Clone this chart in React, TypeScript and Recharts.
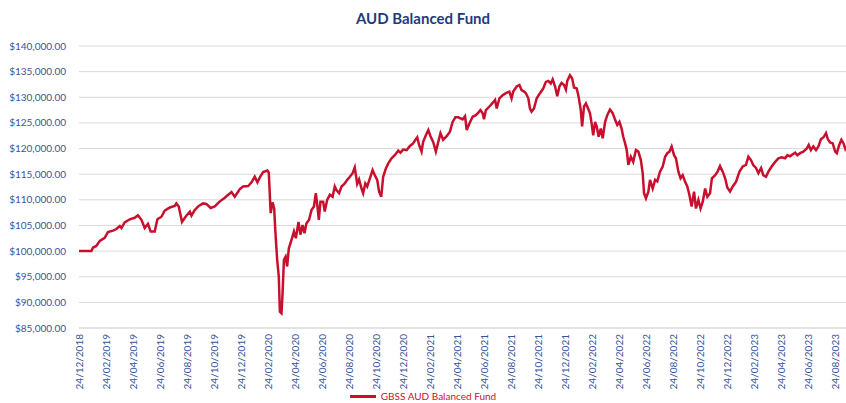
import React from 'react';
import { LineChart, Line, XAxis, YAxis, CartesianGrid, Legend } from 'recharts';

// months since 24/12/2018 for each reading, and the fund value at that point
const obsMonths = [
  0, 0.92, 1.04, 1.28, 1.54, 1.9, 2.14, 2.52, 2.76, 3.02,
  3.14, 3.38, 3.76, 4.12, 4.36, 4.62, 4.86, 5.1, 5.3, 5.6,
  5.8, 6.1, 6.34, 6.72, 7.08, 7.2, 7.38, 7.62, 7.94, 8.2,
  8.32, 8.56, 8.86, 9.18, 9.42, 9.74, 10.04, 10.42, 10.74, 11.04,
  11.28, 11.52, 11.9, 12.14, 12.52, 12.76, 13.0, 13.2, 13.4, 13.62,
  13.94, 14.04, 14.18, 14.32, 14.44, 14.52, 14.66, 14.78, 14.86, 14.98,
  15.06, 15.16, 15.28, 15.4, 15.52, 15.72, 15.9, 16.04, 16.24, 16.38,
  16.54, 16.68, 16.82, 17.02, 17.2, 17.38, 17.52, 17.64, 17.74, 17.86,
  18.06, 18.18, 18.36, 18.56, 18.76, 18.92, 19.04, 19.24, 19.42, 19.66,
  19.84, 20.04, 20.24, 20.4, 20.58, 20.72, 20.9, 21.02, 21.18, 21.32,
  21.52, 21.72, 21.88, 22.06, 22.2, 22.36, 22.5, 22.7, 22.88, 23.12,
  23.36, 23.62, 23.78, 23.98, 24.24, 24.48, 24.72, 24.88, 25.02, 25.16,
  25.34, 25.46, 25.66, 25.84, 26.0, 26.2, 26.4, 26.58, 26.74, 26.94,
  27.2, 27.44, 27.64, 27.84, 28.06, 28.38, 28.56, 28.68, 28.88, 29.12,
  29.36, 29.54, 29.7, 29.86, 29.96, 30.1, 30.36, 30.6, 30.78, 30.9,
  31.1, 31.34, 31.58, 31.84, 32.0, 32.12, 32.38, 32.58, 32.74, 32.92,
  33.06, 33.24, 33.36, 33.48, 33.66, 33.86, 34.1, 34.34, 34.54, 34.72,
  34.9, 35.04, 35.22, 35.38, 35.54, 35.7, 35.88, 36.02, 36.12, 36.32,
  36.48, 36.62, 36.82, 36.96, 37.12, 37.22, 37.36, 37.5, 37.66, 37.8,
  37.92, 38.04, 38.18, 38.3, 38.44, 38.6, 38.74, 38.92, 39.08, 39.28,
  39.48, 39.66, 39.82, 39.98, 40.14, 40.26, 40.4, 40.52, 40.64, 40.82,
  41.0, 41.2, 41.38, 41.56, 41.7, 41.8, 41.94, 42.12, 42.24, 42.44,
  42.62, 42.78, 42.98, 43.18, 43.36, 43.52, 43.68, 43.84, 44.02, 44.16,
  44.34, 44.5, 44.66, 44.84, 45.0, 45.16, 45.32, 45.5, 45.64, 45.82,
  45.98, 46.14, 46.32, 46.48, 46.68, 46.82, 47.06, 47.24, 47.42, 47.62,
  47.8, 47.96, 48.16, 48.36, 48.6, 48.86, 49.1, 49.34, 49.52, 49.7,
  49.88, 50.08, 50.26, 50.46, 50.62, 50.82, 51.0, 51.24, 51.5, 51.74,
  51.98, 52.24, 52.4, 52.6, 52.8, 52.98, 53.14, 53.34, 53.58, 53.84,
  53.98, 54.14, 54.32, 54.52, 54.7, 54.88, 55.08, 55.26, 55.4, 55.56,
  55.76, 55.94, 56.06, 56.24, 56.4, 56.56, 56.68, 56.74,
];

const fundValues = [
  100000, 100000, 100700, 101000, 102000, 102600, 103700, 104000, 104300, 104900,
  104500, 105600, 106200, 106500, 107000, 106100, 104500, 105300, 103800, 103800,
  106200, 106700, 107900, 108500, 108800, 109300, 108700, 105700, 106900, 107700,
  106900, 108000, 108800, 109300, 109200, 108400, 108700, 109700, 110300, 111000,
  111500, 110600, 112100, 112600, 112700, 113400, 114500, 113400, 114500, 115400,
  115700, 115300, 107400, 109500, 108300, 104100, 98300, 95000, 88200, 87900,
  91800, 98300, 98900, 97000, 100500, 102200, 103800, 102500, 105700, 103200,
  105100, 103500, 105400, 106100, 108000, 108700, 111300, 108700, 106100, 109600,
  109600, 107700, 110000, 111000, 110600, 112600, 111900, 111300, 112600, 113200,
  113900, 114500, 115200, 116300, 113100, 114000, 112200, 111300, 113200, 112600,
  114200, 115800, 114800, 113900, 111600, 110600, 114500, 116100, 117100, 118100,
  118700, 119600, 119200, 119800, 119700, 120500, 121000, 121700, 122200, 120700,
  119400, 121300, 122600, 123600, 122400, 121300, 119400, 121300, 123000, 121700,
  122400, 123300, 125200, 126100, 126100, 125700, 126300, 123600, 124900, 126200,
  126500, 127000, 127500, 126900, 125700, 127500, 128200, 128900, 129500, 127800,
  129800, 130400, 130800, 131100, 129800, 131100, 132100, 132400, 131400, 131100,
  130800, 129800, 127800, 127200, 127800, 129800, 130800, 131700, 133000, 133200,
  132700, 133500, 132100, 130200, 132100, 132800, 132400, 131500, 133200, 134300,
  133700, 131900, 131700, 130100, 127500, 124300, 128200, 128800, 127800, 126900,
  124900, 122600, 125200, 124300, 122300, 123900, 122000, 125200, 126500, 127600,
  126900, 125600, 124600, 125200, 123900, 122300, 121000, 119700, 116800, 118400,
  117400, 119700, 119400, 117800, 115200, 111300, 110300, 111600, 113900, 112200,
  113900, 113600, 115500, 116500, 118400, 119100, 119400, 120400, 118700, 118100,
  115500, 114200, 114800, 113500, 112600, 110900, 108700, 111600, 108300, 110000,
  108300, 109600, 112200, 110600, 111300, 114200, 114800, 115500, 116600, 115500,
  114200, 112400, 111600, 112600, 113500, 115500, 116500, 116800, 118400, 117800,
  116800, 116200, 115200, 116200, 114800, 114500, 115500, 116500, 117400, 118100,
  118300, 118100, 118700, 118500, 118900, 119200, 118700, 119100, 119400, 120000,
  120700, 119700, 120400, 119700, 120400, 121800, 122200, 123000, 121800, 121200,
  121000, 119400, 119100, 120700, 121700, 121000, 120000, 120400,
];

const dateLabels = [
  '24/12/2018', '24/02/2019', '24/04/2019', '24/06/2019', '24/08/2019', '24/10/2019',
  '24/12/2019', '24/02/2020', '24/04/2020', '24/06/2020', '24/08/2020', '24/10/2020',
  '24/12/2020', '24/02/2021', '24/04/2021', '24/06/2021', '24/08/2021', '24/10/2021',
  '24/12/2021', '24/02/2022', '24/04/2022', '24/06/2022', '24/08/2022', '24/10/2022',
  '24/12/2022', '24/02/2023', '24/04/2023', '24/06/2023', '24/08/2023',
];

const yTicks = [85000, 90000, 95000, 100000, 105000, 110000, 115000, 120000, 125000, 130000, 135000, 140000];

const FONT = 'Lato, "Open Sans", sans-serif';
const AXIS_BLUE = '#36559a';
const LINE_RED = '#c8102e';

const chartData = obsMonths.map((m, i) => ({ month: m, fund: fundValues[i] }));
const xTicks = dateLabels.map((_, i) => i * 2);

function formatMoney(v: number): string {
  return '$' + v.toLocaleString('en-US', { minimumFractionDigits: 2, maximumFractionDigits: 2 });
}

function DateTick(props: any) {
  const { x, y, payload } = props;
  const label = dateLabels[Math.round(payload.value / 2)] ?? '';
  return (
    <g transform={`translate(${x},${y})`}>
      <text
        x={0}
        y={0}
        dy="0.35em"
        textAnchor="end"
        transform="rotate(-90)"
        fill={AXIS_BLUE}
        fontSize={10}
        fontFamily={FONT}
      >
        {label}
      </text>
    </g>
  );
}

function FundLegend(props: any) {
  const items = props.payload ?? [];
  return (
    <div style={{ display: 'flex', justifyContent: 'center', height: 14, lineHeight: '14px' }}>
      {items.map((it: any) => (
        <span key={it.value} style={{ display: 'flex', alignItems: 'center', gap: 5, color: LINE_RED }}>
          <span style={{ width: 26, height: 3, background: LINE_RED, display: 'inline-block' }} />
          <span style={{ fontSize: 10, fontFamily: FONT }}>{it.value}</span>
        </span>
      ))}
    </div>
  );
}

export default function App() {
  return (
    <div style={{ position: 'absolute', left: 0, top: 0, width: 846, height: 403, background: '#fff' }}>
      <div
        style={{
          position: 'absolute',
          top: 9,
          left: 0,
          width: 846,
          textAlign: 'center',
          fontFamily: FONT,
          fontWeight: 700,
          fontSize: 15,
          lineHeight: '18px',
          color: '#1f3b7a',
          zIndex: 1,
        }}
      >
        AUD Balanced Fund
      </div>
      <LineChart width={846} height={403} data={chartData} margin={{ top: 46, right: 0, left: 0, bottom: 0 }}>
        <CartesianGrid horizontal vertical={false} stroke="#d9d9d9" />
        <XAxis
          dataKey="month"
          type="number"
          domain={[0, 56.74]}
          ticks={xTicks}
          interval={0}
          tick={<DateTick />}
          tickLine={false}
          tickMargin={0}
          axisLine={{ stroke: '#d9d9d9' }}
          height={61}
        />
        <YAxis
          domain={[85000, 140000]}
          ticks={yTicks}
          interval={0}
          width={79}
          tickLine={false}
          axisLine={false}
          tickMargin={7}
          tickFormatter={formatMoney}
          tick={{ fill: AXIS_BLUE, fontSize: 10, fontFamily: FONT }}
        />
        <Legend verticalAlign="bottom" align="center" content={<FundLegend />} />
        <Line
          type="linear"
          dataKey="fund"
          name="GBSS AUD Balanced Fund"
          stroke={LINE_RED}
          strokeWidth={2.5}
          dot={false}
          isAnimationActive={false}
        />
      </LineChart>
    </div>
  );
}
